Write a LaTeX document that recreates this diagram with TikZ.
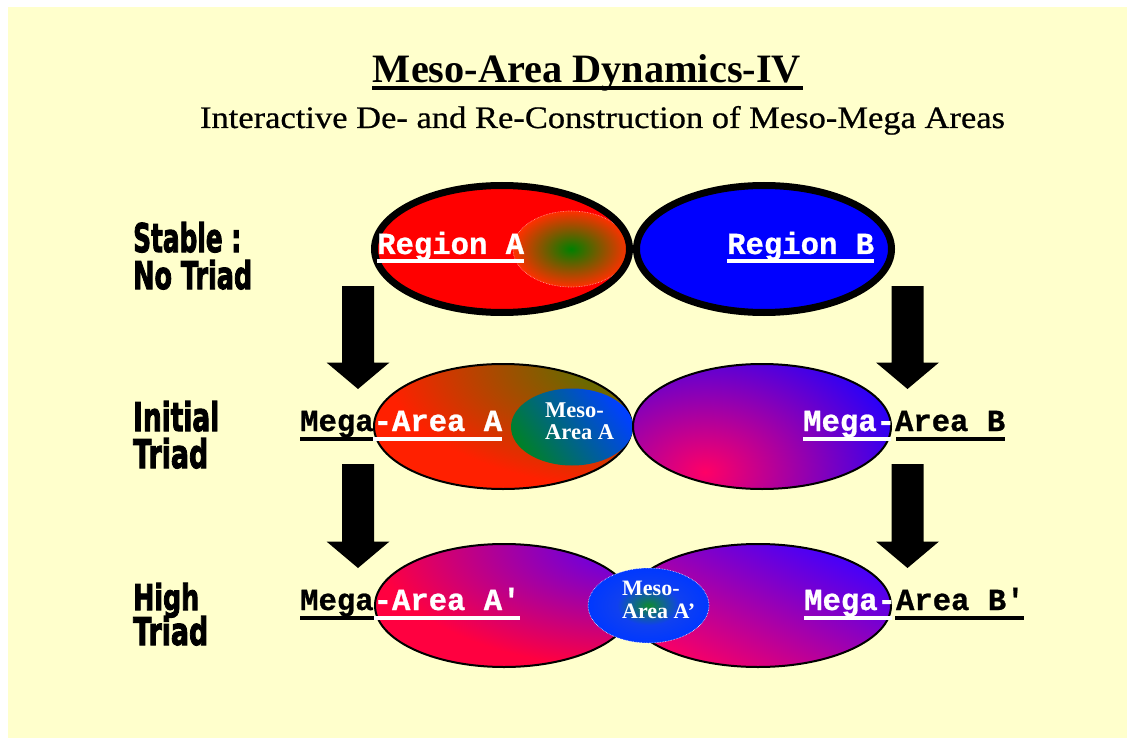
\documentclass[tikz,border=0pt]{standalone}
\usepackage{fontspec}
\usepackage{graphicx}
\setmainfont{Liberation Serif}
\newfontfamily\subfont{Liberation Serif}[FakeBold=0.6]
\newfontfamily\monofont{Liberation Mono}[FakeBold=0.8]
\newfontfamily\impactfont{DejaVu Sans}[FakeBold=3]
\usetikzlibrary{calc}

\definecolor{bgyellow}{HTML}{FFFFCC}
\definecolor{regred}{HTML}{FF0000}
\definecolor{regblue}{HTML}{0000FF}
\definecolor{rgreen}{HTML}{008000}
\definecolor{rorange}{HTML}{FF3000}
\definecolor{mred}{HTML}{FF2000}
\definecolor{mgreen}{HTML}{3C8000}
\definecolor{mesogreen}{HTML}{00802A}
\definecolor{mesoblue}{HTML}{0040FF}
\definecolor{ppink}{HTML}{FF0066}
\definecolor{pblue}{HTML}{2000FF}
\definecolor{bpink}{HTML}{FF0040}
\definecolor{bblue}{HTML}{5000FF}
\definecolor{brtop}{HTML}{4000FF}
\definecolor{brbot}{HTML}{FF0060}
\definecolor{apgreen}{HTML}{108A30}
\definecolor{apblue}{HTML}{1040F0}
\definecolor{apblue2}{HTML}{0038FF}

\pgfdeclareradialshading{regAshade}{\pgfpoint{0bp}{0bp}}{color(0bp)=(rgreen); color(25bp)=(rorange); color(50bp)=(rorange)}
\pgfdeclareradialshading{mesoAp}{\pgfpoint{0bp}{0bp}}{color(0bp)=(apgreen); color(13bp)=(apblue); color(25bp)=(apblue2); color(50bp)=(apblue2)}

\newcommand\blockarrow[2]{\fill ($(#1)+(-16,0)$) -- ($(#1)+(16,0)$) -- ($(#2)+(16,-26.5)$) -- ($(#2)+(31.5,-26.5)$) -- (#2) -- ($(#2)+(-31.5,-26.5)$) -- ($(#2)+(-16,-26.5)$) -- cycle;}

\tikzset{
  mono/.style={font={\monofont\bfseries\fontsize{30.6}{36}\selectfont}, inner sep=0pt, anchor=base west},
  lbl/.style={font={\impactfont\bfseries}, inner sep=0pt, anchor=base west},
  meso/.style={font={\bfseries\fontsize{22.5}{24}\selectfont}, text=white, inner sep=0pt, anchor=base west},
  uline/.style={line width=4pt},
  thinborder/.style={line width=2pt},
}

\begin{document}
\begin{tikzpicture}[x=1pt,y=-1pt]
\useasboundingbox (0,0) rectangle (1127,738);
\fill[bgyellow] (8,7) rectangle (1127,738);

% Title
\node[inner sep=0pt, anchor=base] (title) at (587,83) {\resizebox{428pt}{!}{\bfseries Meso-Area Dynamics-IV}};
\draw[uline] (372,88.5) -- (803,88.5);
\node[inner sep=0pt, anchor=base] (subtitle) at (602.5,128) {\resizebox{805pt}{22pt}{\subfont Interactive De- and Re-Construction of Meso-Mega Areas}};

% Left labels
\node[lbl] (st1) at (133,252) {\resizebox{108pt}{30pt}{Stable :}};
\node[lbl] (nt1) at (133,289) {\resizebox{119pt}{29pt}{No Triad}};
\node[lbl] (in1) at (133,431) {\resizebox{86pt}{30pt}{Initial}};
\node[lbl] (tr1) at (133,468) {\resizebox{75pt}{30pt}{Triad}};
\node[lbl] (hi1) at (133,610) {\resizebox{66pt}{27pt}{High}};
\node[lbl] (tr2) at (133,645) {\resizebox{75pt}{29pt}{Triad}};

% Top row
\fill[regred] (502,249) ellipse (127.5 and 63.5);
\fill[regblue] (764,249) ellipse (127.5 and 63.5);
\shade[shading=regAshade] (571,249) ellipse (58 and 38);
\draw[white!70!red, line width=0.6pt, densely dotted] (571,249) ellipse (58 and 38);
\draw[line width=7pt] (502,249) ellipse (127.5 and 63.5);
\draw[line width=7pt] (764,249) ellipse (127.5 and 63.5);
\node[mono, text=white] (regA) at (377,254) {Region A};
\node[mono, text=white] (regB) at (727,254) {Region B};
\draw[uline, white] (377,261) -- (523.5,261);
\draw[uline, white] (727,261) -- (873.5,261);

% Arrows row 1
\coordinate (aL1s) at (358,286);
\coordinate (aL1t) at (358,389);
\coordinate (aR1s) at (907.5,286);
\coordinate (aR1t) at (907.5,389);
\blockarrow{aL1s}{aL1t}
\blockarrow{aR1s}{aR1t}

% Middle row
\begin{scope}
  \clip (503,426.5) ellipse (129 and 62.5);
  \fill[mred] (370,360) rectangle (636,493);
  \shade[inner color=mgreen, outer color=mred] (633,363) ellipse (250 and 125);
\end{scope}
\draw[thinborder] (503,426.5) ellipse (129 and 62.5);
\shade[top color=mesoblue, bottom color=mesogreen, shading angle=-55] (572,427) ellipse (61 and 38.5);
\begin{scope}
  \clip (762,426.5) ellipse (129 and 62.5);
  \fill[pblue] (630,360) rectangle (895,493);
  \shade[inner color=ppink, outer color=pblue] (705,472) ellipse (210 and 150);
\end{scope}
\draw[thinborder] (762,426.5) ellipse (129 and 62.5);
\node[meso] (mesoA1) at (545,417) {Meso-};
\node[meso] (mesoA2) at (545,439) {Area A};
\node[mono] (megaA) at (300,431) {Mega\textcolor{white}{-Area A}};
\node[mono] (megaB) at (803,431) {\textcolor{white}{Mega-}Area B};
\draw[uline] (300,439) -- (373,439);
\draw[uline, white] (373,439) -- (502,439);
\draw[uline, white] (803,439) -- (891,439);
\draw[uline] (896,439) -- (1005,439);

% Arrows row 2
\coordinate (aL2s) at (358,464);
\coordinate (aL2t) at (358,568);
\coordinate (aR2s) at (907.5,464);
\coordinate (aR2t) at (907.5,568);
\blockarrow{aL2s}{aL2t}
\blockarrow{aR2s}{aR2t}

% Bottom row
\begin{scope}
  \clip (504,605.5) ellipse (129 and 61.5);
  \fill[bpink] (370,540) rectangle (636,670);
  \shade[inner color=bblue, outer color=bpink] (634,543) ellipse (260 and 125);
\end{scope}
\draw[thinborder] (504,605.5) ellipse (129 and 61.5);
\shade[top color=brtop, bottom color=brbot, shading angle=-25] (758,605.5) ellipse (133 and 61.5);
\draw[thinborder] (758,605.5) ellipse (133 and 61.5);
\shade[shading=mesoAp] (648.5,605.5) ellipse (60.5 and 37.5);
\draw[white, line width=0.6pt, densely dotted] (648.5,605.5) ellipse (60.5 and 37.5);
\node[meso, font={\bfseries\fontsize{22}{24}\selectfont}] (mesoAp1) at (622,595) {Meso-};
\node[meso, font={\bfseries\fontsize{22}{24}\selectfont}] (mesoAp2) at (622,618) {Area A’};
\node[mono] (megaAp) at (300,610) {Mega\textcolor{white}{-Area A′}};
\node[mono] (megaBp) at (804,610) {\textcolor{white}{Mega-}Area B′};
\draw[uline] (300,618) -- (374,618);
\draw[uline, white] (374,618) -- (520,618);
\draw[uline, white] (804,618) -- (892,618);
\draw[uline] (895,618) -- (1024,618);
\end{tikzpicture}
\end{document}
